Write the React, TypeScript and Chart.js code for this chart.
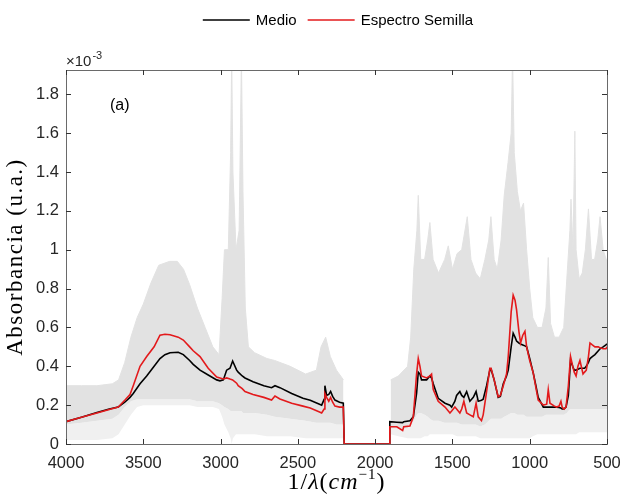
import React, { useEffect, useRef } from "react";
import { Chart, registerables } from "chart.js";

Chart.register(...registerables);

// ---- Data (absorbance in units of 1e-3) ----
const wavenumbers = [
  4000, 3900, 3800, 3720, 3662, 3620, 3586, 3565, 3521, 3478, 3430, 3392, 3360, 3327, 3274, 3241, 3200, 3177, 3133, 3080,
  3025, 3004, 2982, 2961, 2939, 2922, 2896, 2886, 2860, 2842, 2790, 2720, 2670, 2648, 2616, 2540, 2467, 2420, 2360, 2346,
  2330, 2325, 2314, 2300, 2288, 2275, 2260, 2230, 2206, 2200, 1910, 1905, 1860, 1822, 1815, 1775, 1753, 1732, 1721, 1710,
  1700, 1667, 1646, 1635, 1624, 1592, 1548, 1516, 1505, 1484, 1473, 1452, 1440, 1426, 1408, 1387, 1365, 1347, 1333, 1312,
  1301, 1279, 1258, 1250, 1230, 1204, 1190, 1171, 1150, 1139, 1120, 1107, 1095, 1085, 1070, 1059, 1045, 1031, 1020, 1000,
  977, 960, 945, 912, 890, 880, 869, 840, 826, 810, 798, 790, 778, 765, 750, 736, 722, 712, 700, 688,
  675, 655, 645, 634, 620, 610, 595, 578, 556, 545, 525, 507, 500,
];
const medio = [
  0.115, 0.138, 0.162, 0.18, 0.19, 0.215, 0.24, 0.26, 0.31, 0.35, 0.4, 0.44, 0.46, 0.47, 0.472, 0.46, 0.43, 0.41, 0.38, 0.355,
  0.33, 0.325, 0.33, 0.38, 0.39, 0.427, 0.38, 0.37, 0.35, 0.34, 0.32, 0.3, 0.29, 0.3, 0.29, 0.26, 0.235, 0.225, 0.205, 0.2,
  0.23, 0.3, 0.25, 0.255, 0.27, 0.245, 0.226, 0.215, 0.21, 0, 0, 0.115, 0.112, 0.11, 0.115, 0.12, 0.14, 0.26, 0.37, 0.36,
  0.33, 0.33, 0.35, 0.34, 0.31, 0.235, 0.21, 0.2, 0.19, 0.22, 0.25, 0.27, 0.25, 0.24, 0.27, 0.22, 0.24, 0.27, 0.22, 0.225,
  0.23, 0.3, 0.38, 0.385, 0.33, 0.24, 0.245, 0.31, 0.35, 0.38, 0.5, 0.57, 0.55, 0.53, 0.52, 0.515, 0.51, 0.505, 0.5, 0.44,
  0.365, 0.3, 0.24, 0.19, 0.19, 0.19, 0.19, 0.19, 0.19, 0.188, 0.185, 0.18, 0.18, 0.19, 0.25, 0.43, 0.4, 0.38, 0.38, 0.385,
  0.39, 0.39, 0.39, 0.4, 0.42, 0.44, 0.45, 0.46, 0.48, 0.49, 0.5, 0.51, 0.515,
];
const semilla = [
  0.115, 0.138, 0.16, 0.178, 0.19, 0.225, 0.255, 0.3, 0.4, 0.45, 0.5, 0.56, 0.565, 0.562, 0.55, 0.535, 0.5, 0.48, 0.45, 0.39,
  0.345, 0.34, 0.335, 0.34, 0.334, 0.33, 0.313, 0.3, 0.285, 0.27, 0.255, 0.24, 0.226, 0.247, 0.232, 0.21, 0.195, 0.185, 0.165, 0.16,
  0.18, 0.26, 0.24, 0.22, 0.24, 0.215, 0.195, 0.19, 0.19, 0, 0, 0.089, 0.089, 0.07, 0.089, 0.092, 0.14, 0.36, 0.44, 0.4,
  0.35, 0.34, 0.35, 0.36, 0.28, 0.22, 0.19, 0.16, 0.17, 0.19, 0.18, 0.16, 0.18, 0.22, 0.16, 0.15, 0.14, 0.21, 0.14, 0.12,
  0.15, 0.27, 0.39, 0.39, 0.33, 0.243, 0.25, 0.3, 0.36, 0.45, 0.68, 0.766, 0.74, 0.69, 0.58, 0.52, 0.56, 0.58, 0.5, 0.43,
  0.365, 0.29, 0.226, 0.2, 0.205, 0.28, 0.21, 0.195, 0.19, 0.195, 0.22, 0.19, 0.18, 0.19, 0.3, 0.45, 0.4, 0.37, 0.35, 0.4,
  0.43, 0.36, 0.37, 0.38, 0.45, 0.52, 0.51, 0.5, 0.5, 0.495, 0.49, 0.49, 0.5,
];

// envelope of the individual (gray) spectra, left block
const grayLeftX = [
  4000, 3900, 3800, 3700, 3660, 3620, 3580, 3540, 3500, 3450, 3400, 3330, 3280, 3240, 3200, 3150, 3100, 3050, 3010, 2990,
  2975, 2950, 2935, 2928, 2920, 2900, 2880, 2865, 2855, 2840, 2820, 2780, 2700, 2650, 2550, 2450, 2380, 2350, 2320, 2290,
  2250, 2205,
];
const grayLeftUpper = [
  0.3, 0.3, 0.3, 0.31, 0.33, 0.42, 0.55, 0.65, 0.72, 0.83, 0.92, 0.94, 0.94, 0.9, 0.82, 0.7, 0.6, 0.5, 0.46, 0.75,
  1.0, 1.0, 1.5, 2.0, 1.4, 1.0, 1.1, 2.0, 1.3, 0.7, 0.5, 0.47, 0.44, 0.43, 0.4, 0.36, 0.38, 0.5, 0.55, 0.45,
  0.38, 0.33,
];
const grayLeftDense = [
  0.1, 0.11, 0.12, 0.13, 0.15, 0.19, 0.22, 0.23, 0.23, 0.23, 0.23, 0.23, 0.23, 0.23, 0.23, 0.22, 0.22, 0.22, 0.21, 0.2,
  0.19, 0.18, 0.17, 0.17, 0.17, 0.17, 0.17, 0.17, 0.16, 0.16, 0.16, 0.16, 0.15, 0.14, 0.13, 0.12, 0.11, 0.11, 0.11, 0.11,
  0.1, 0.1,
];
const grayLeftLower = [
  0.02, 0.02, 0.02, 0.03, 0.05, 0.1, 0.15, 0.19, 0.2, 0.2, 0.2, 0.2, 0.2, 0.2, 0.2, 0.19, 0.19, 0.19, 0.18, 0.14,
  0.1, 0.06, 0.03, 0.0, 0.03, 0.05, 0.05, 0.05, 0.05, 0.05, 0.05, 0.05, 0.04, 0.04, 0.04, 0.03, 0.03, 0.03, 0.03, 0.03,
  0.03, 0.03,
];

// envelope of the individual (gray) spectra, right block
const grayRightX = [
  1900, 1850, 1790, 1770, 1750, 1730, 1721, 1705, 1680, 1660, 1646, 1625, 1590, 1550, 1527, 1500, 1470, 1440, 1404, 1380,
  1350, 1320, 1290, 1265, 1251, 1230, 1210, 1185, 1165, 1140, 1120, 1111, 1100, 1080, 1060, 1040, 1020, 1000, 980, 950,
  920, 895, 880, 865, 840, 810, 780, 760, 740, 733, 720, 708, 700, 680, 660, 640, 620, 600, 580, 560,
  545, 525, 505, 500,
];
const grayRightUpper = [
  0.33, 0.35, 0.4, 0.55, 0.9, 1.1, 1.28, 0.95, 0.95, 1.05, 1.14, 0.95, 0.88, 0.95, 1.02, 0.9, 0.98, 1.0, 1.17, 0.95,
  0.88, 0.85, 0.95, 1.05, 1.17, 0.95, 0.9, 1.05, 1.28, 1.45, 1.6, 2.0, 1.5, 1.3, 1.2, 1.24, 1.0, 0.8, 0.65, 0.6,
  0.6, 0.7, 0.96, 0.62, 0.55, 0.55, 0.6, 0.85, 1.1, 1.26, 1.0, 1.61, 1.0, 0.85, 0.88, 1.0, 1.21, 0.95, 0.95, 1.05,
  1.17, 1.0, 0.95, 0.95,
];
const grayRightDense = [
  0.08, 0.08, 0.08, 0.1, 0.12, 0.15, 0.16, 0.16, 0.15, 0.14, 0.13, 0.12, 0.12, 0.11, 0.11, 0.11, 0.11, 0.1, 0.1, 0.1,
  0.1, 0.09, 0.1, 0.12, 0.13, 0.13, 0.13, 0.13, 0.14, 0.15, 0.16, 0.16, 0.16, 0.15, 0.15, 0.15, 0.14, 0.14, 0.14, 0.14,
  0.14, 0.15, 0.15, 0.15, 0.15, 0.15, 0.15, 0.16, 0.18, 0.18, 0.18, 0.18, 0.18, 0.18, 0.18, 0.18, 0.18, 0.18, 0.18, 0.18,
  0.18, 0.18, 0.18, 0.18,
];
const grayRightLower = [
  0.05, 0.04, 0.03, 0.03, 0.03, 0.03, 0.03, 0.03, 0.04, 0.04, 0.05, 0.05, 0.05, 0.05, 0.05, 0.05, 0.04, 0.04, 0.04, 0.04,
  0.04, 0.03, 0.03, 0.03, 0.03, 0.03, 0.03, 0.03, 0.03, 0.03, 0.03, 0.03, 0.03, 0.03, 0.03, 0.03, 0.03, 0.03, 0.04, 0.05,
  0.05, 0.05, 0.05, 0.05, 0.05, 0.05, 0.05, 0.05, 0.05, 0.05, 0.05, 0.05, 0.05, 0.06, 0.06, 0.06, 0.06, 0.06, 0.06, 0.06,
  0.06, 0.06, 0.06, 0.06,
];

const xTicks = [4000, 3500, 3000, 2500, 2000, 1500, 1000, 500];
const yTicks = [0, 0.2, 0.4, 0.6, 0.8, 1.0, 1.2, 1.4, 1.6, 1.8];
const legendLabels = ["Medio", "Espectro Semilla"];

const DENSE = "rgb(226,226,226)";
const SPARSE = "rgb(240,240,240)";
const BLACK = "#000000";
const RED = "#e31a1c";
const SANS = '"Liberation Sans", Arial, Helvetica, sans-serif';
const SERIF = '"Liberation Serif", "Times New Roman", serif';

const pts = (xs: number[], ys: number[]) => xs.map((x, i) => ({ x, y: ys[i] }));

const decor = {
  id: "decor",
  afterDraw(chart: any) {
    const { ctx, chartArea: a, scales } = chart;
    const xs = scales.x;
    const ys = scales.y;
    ctx.save();
    // box
    ctx.strokeStyle = "#6a6a6a";
    ctx.lineWidth = 1;
    ctx.strokeRect(Math.round(a.left) + 0.5, Math.round(a.top) + 0.5, Math.round(a.right - a.left), Math.round(a.bottom - a.top));
    // inward ticks
    ctx.strokeStyle = "#333";
    ctx.beginPath();
    xTicks.forEach((v) => {
      const px = Math.round(xs.getPixelForValue(v)) + 0.5;
      ctx.moveTo(px, a.bottom);
      ctx.lineTo(px, a.bottom - 5);
      ctx.moveTo(px, a.top);
      ctx.lineTo(px, a.top + 5);
    });
    yTicks.forEach((v) => {
      const py = Math.round(ys.getPixelForValue(v)) + 0.5;
      ctx.moveTo(a.left, py);
      ctx.lineTo(a.left + 5, py);
      ctx.moveTo(a.right, py);
      ctx.lineTo(a.right - 5, py);
    });
    ctx.stroke();

    // exponent label
    ctx.fillStyle = "#262626";
    ctx.textBaseline = "alphabetic";
    ctx.textAlign = "left";
    ctx.font = `15px ${SANS}`;
    ctx.fillText("\u00d710", a.left, a.top - 4);
    const w10 = ctx.measureText("\u00d710").width;
    ctx.font = `11px ${SANS}`;
    ctx.fillText("-3", a.left + w10 + 1, a.top - 11);

    // panel label
    ctx.font = `16px ${SANS}`;
    ctx.fillStyle = "#000";
    ctx.fillText("(a)", 110, 110);

    // legend
    ctx.font = `15px ${SANS}`;
    ctx.textBaseline = "middle";
    const lineLen = 47;
    const gap = 6;
    const between = 11;
    const w1 = ctx.measureText(legendLabels[0]).width;
    const w2 = ctx.measureText(legendLabels[1]).width;
    const total = lineLen + gap + w1 + between + lineLen + gap + w2;
    let lx = 338 - total / 2;
    const ly = 20;
    ctx.lineWidth = 1.6;
    ctx.strokeStyle = BLACK;
    ctx.beginPath();
    ctx.moveTo(lx, ly);
    ctx.lineTo(lx + lineLen, ly);
    ctx.stroke();
    ctx.fillStyle = "#000";
    ctx.fillText(legendLabels[0], lx + lineLen + gap, ly + 1);
    lx += lineLen + gap + w1 + between;
    ctx.strokeStyle = RED;
    ctx.beginPath();
    ctx.moveTo(lx, ly);
    ctx.lineTo(lx + lineLen, ly);
    ctx.stroke();
    ctx.fillText(legendLabels[1], lx + lineLen + gap, ly + 1);

    // x title: 1/λ(cm^-1)
    ctx.textBaseline = "alphabetic";
    const fs = 24;
    (ctx as any).letterSpacing = "1px";
    const parts: [string, string, number][] = [
      ["1/", `${fs}px ${SERIF}`, 0],
      ["\u03bb", `italic ${fs}px ${SERIF}`, 0],
      ["(", `${fs}px ${SERIF}`, 0],
      ["cm", `italic ${fs}px ${SERIF}`, 0],
      ["\u22121", `${15}px ${SERIF}`, -10],
      [")", `${fs}px ${SERIF}`, 0],
    ];
    let tw = 0;
    parts.forEach(([t, f]) => {
      ctx.font = f;
      tw += ctx.measureText(t).width;
    });
    let tx = (a.left + a.right) / 2 - tw / 2;
    const tyBase = 489;
    parts.forEach(([t, f, dy]) => {
      ctx.font = f;
      ctx.fillText(t, tx, tyBase + dy);
      tx += ctx.measureText(t).width;
    });

    // y title
    ctx.save();
    (ctx as any).letterSpacing = "1.5px";
    ctx.translate(16, (a.top + a.bottom) / 2);
    ctx.rotate(-Math.PI / 2);
    ctx.textAlign = "center";
    ctx.textBaseline = "middle";
    ctx.font = `23px ${SERIF}`;
    ctx.fillText("Absorbancia (u.a.)", 0, 0);
    ctx.restore();
    (ctx as any).letterSpacing = "0px";

    ctx.restore();
  },
};

export default function App() {
  const ref = useRef<HTMLCanvasElement | null>(null);
  useEffect(() => {
    document.body.style.margin = "0";
    const canvas = ref.current;
    if (!canvas) return;
    const transparent = "rgba(0,0,0,0)";
    const chart = new Chart(canvas, {
      type: "line",
      data: {
        datasets: [
          { label: legendLabels[1], data: pts(wavenumbers, semilla), borderColor: RED, borderWidth: 1.6, fill: false, order: 0 },
          { label: legendLabels[0], data: pts(wavenumbers, medio), borderColor: BLACK, borderWidth: 1.6, fill: false, order: 1 },
          { label: "gL1", data: pts(grayLeftX, grayLeftUpper), borderColor: DENSE, borderWidth: 1, backgroundColor: DENSE, fill: "+1", order: 5 },
          { label: "gL2", data: pts(grayLeftX, grayLeftDense), borderColor: transparent, borderWidth: 1, backgroundColor: SPARSE, fill: "+1", order: 6 },
          { label: "gL3", data: pts(grayLeftX, grayLeftLower), borderColor: transparent, borderWidth: 1, fill: false, order: 7 },
          { label: "gR1", data: pts(grayRightX, grayRightUpper), borderColor: DENSE, borderWidth: 1, backgroundColor: DENSE, fill: "+1", order: 5 },
          { label: "gR2", data: pts(grayRightX, grayRightDense), borderColor: transparent, borderWidth: 1, backgroundColor: SPARSE, fill: "+1", order: 6 },
          { label: "gR3", data: pts(grayRightX, grayRightLower), borderColor: transparent, borderWidth: 1, fill: false, order: 7 },
        ],
      },
      options: {
        animation: false,
        responsive: false,
        events: [],
        layout: { padding: { top: 70, right: 16, left: 0, bottom: 0 } },
        elements: { point: { radius: 0 }, line: { tension: 0 } },
        plugins: { legend: { display: false }, tooltip: { enabled: false }, title: { display: false } },
        scales: {
          x: {
            type: "linear",
            reverse: true,
            min: 500,
            max: 4000,
            grid: { display: false, drawTicks: false },
            border: { display: false },
            afterBuildTicks: (s: any) => {
              s.ticks = xTicks.map((v) => ({ value: v }));
            },
            afterFit: (s: any) => {
              s.height = 51;
              s.paddingLeft = 0;
              s.paddingRight = 0;
            },
            ticks: {
              autoSkip: false,
              maxRotation: 0,
              padding: 10,
              color: "#262626",
              font: { family: SANS, size: 16.5 },
              callback: (v: any) => String(v),
            },
          },
          y: {
            type: "linear",
            min: 0,
            max: 1.925,
            grid: { display: false, drawTicks: false },
            border: { display: false },
            afterBuildTicks: (s: any) => {
              s.ticks = yTicks.map((v) => ({ value: v }));
            },
            afterFit: (s: any) => {
              s.width = 66;
              s.paddingTop = 0;
              s.paddingBottom = 0;
            },
            ticks: {
              padding: 7,
              color: "#262626",
              font: { family: SANS, size: 16.5 },
              callback: (v: any) => String(Math.round(Number(v) * 10) / 10),
            },
          },
        },
      },
      plugins: [decor],
    });
    return () => chart.destroy();
  }, []);
  return <canvas ref={ref} width={623} height={495} style={{ display: "block" }} />;
}
